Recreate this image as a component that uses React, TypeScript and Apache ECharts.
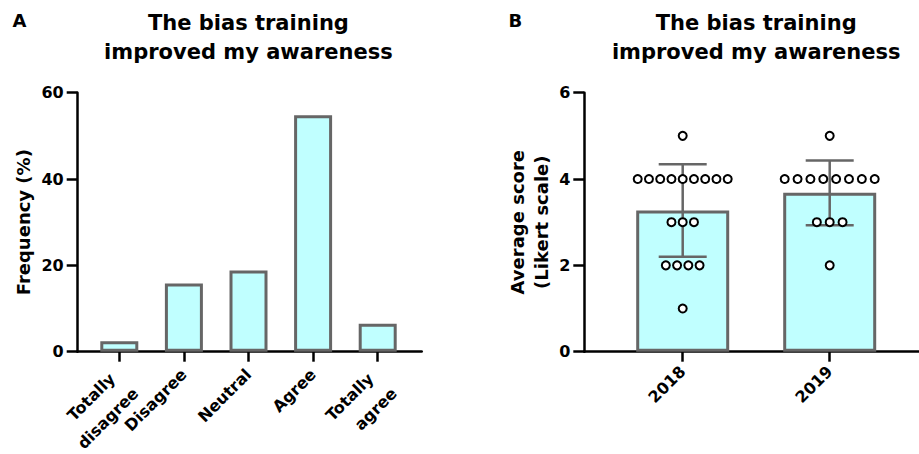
import React, { useEffect, useRef } from "react";
import * as echarts from "echarts";

// ---------- data ----------
const categoriesA = ["Totally\ndisagree", "Disagree", "Neutral", "Agree", "Totally\nagree"];
const frequencyA = [2.4, 15.8, 18.8, 54.8, 6.5];

const yearsB = ["2018", "2019"];
const meanB = [3.27, 3.68];
const sdB = [1.07, 0.75];
const scores2018 = [5, 4, 4, 4, 4, 4, 4, 4, 4, 4, 3, 3, 3, 2, 2, 2, 2, 1];
const scores2019 = [5, 4, 4, 4, 4, 4, 4, 4, 4, 3, 3, 3, 2];

const titleText = "The bias training\nimproved my awareness";
const yTicksA = { min: 0, max: 60, interval: 20 };
const yTicksB = { min: 0, max: 6, interval: 2 };

const FONT = "'DejaVu Sans', sans-serif";
const BAR_FILL = "#C0FFFF";
const BAR_EDGE = "#666666";

export default function App() {
  const ref = useRef<HTMLDivElement>(null);

  useEffect(() => {
    if (!ref.current) return;
    const chart = echarts.init(ref.current, undefined, { renderer: "svg" });

    const top = 92.7;
    const h = 259;
    const gA = { left: 87, width: 323 };
    const gALine = { left: 77.7, width: 344 };
    const gB = { left: 609.2, width: 294 };
    const gBLine = { left: 584.3, width: 334.7 };

    // beeswarm-like layout of dots (layout only, values come from score arrays)
    const spreadPx = 90;
    const pxPerUnit = gB.width / 2;
    const dots: number[][] = [];
    [scores2018, scores2019].forEach((arr, gi) => {
      const counts: Record<number, number> = {};
      arr.forEach((v) => (counts[v] = (counts[v] || 0) + 1));
      const maxCount = Math.max(...Object.values(counts));
      const step = maxCount > 1 ? spreadPx / (maxCount - 1) : 0;
      Object.keys(counts).forEach((k) => {
        const v = Number(k);
        const n = counts[v];
        for (let i = 0; i < n; i++) {
          dots.push([gi + ((i - (n - 1) / 2) * step) / pxPerUnit, v]);
        }
      });
    });

    const labelFont = { fontFamily: FONT, fontWeight: "bold" as const, fontSize: 16, color: "#000" };
    const axisStyle = { color: "#000", width: 2.5 };
    const gridBase = { containLabel: false, outerBoundsMode: "none" };

    const option: any = {
      animation: false,
      backgroundColor: "#fff",
      title: [
        { text: "A", left: 12.5, top: 11.4, padding: 0, textStyle: { fontFamily: FONT, fontWeight: "bold", fontSize: 18, color: "#000" } },
        { text: "B", left: 508.5, top: 11.4, padding: 0, textStyle: { fontFamily: FONT, fontWeight: "bold", fontSize: 18, color: "#000" } },
        { text: titleText, left: 248.4, top: 8.5, padding: 0, textAlign: "center", textStyle: { fontFamily: FONT, fontWeight: "bold", fontSize: 21, lineHeight: 29, color: "#000" } },
        { text: titleText, left: 756.2, top: 8.5, padding: 0, textAlign: "center", textStyle: { fontFamily: FONT, fontWeight: "bold", fontSize: 21, lineHeight: 29, color: "#000" } },
      ],
      grid: [
        { ...gridBase, left: gA.left, width: gA.width, top, height: h },
        { ...gridBase, left: gALine.left, width: gALine.width, top, height: h },
        { ...gridBase, left: gB.left, width: gB.width, top, height: h },
        { ...gridBase, left: gBLine.left, width: gBLine.width, top, height: h },
      ],
      xAxis: [
        {
          type: "category",
          gridIndex: 0,
          data: categoriesA.map((c) =>
            c.includes("\n") ? { value: c, textStyle: { padding: [23, 2, 0, 0] } } : c
          ),
          boundaryGap: true,
          axisLine: { show: false },
          axisTick: { show: true, alignWithLabel: true, length: 10, lineStyle: axisStyle },
          axisLabel: {
            ...labelFont,
            interval: 0,
            rotate: 45,
            margin: 20,
            verticalAlign: "middle",
            lineHeight: 24,
            formatter: (v: string) => {
              if (!v.includes("\n")) return v;
              const [l1, l2] = v.split("\n");
              return `{a|${l1}}\n{b|${l2}}`;
            },
            rich: {
              a: { ...labelFont, lineHeight: 27, padding: [0, 6, 0, 0] },
              b: { ...labelFont, lineHeight: 27 },
            },
          },
          splitLine: { show: false },
        },
        {
          type: "value",
          gridIndex: 1,
          min: 0,
          max: 1,
          axisLine: { show: true, onZero: false, lineStyle: axisStyle },
          axisTick: { show: false },
          axisLabel: { show: false },
          splitLine: { show: false },
        },
        {
          type: "category",
          gridIndex: 2,
          data: yearsB,
          boundaryGap: true,
          axisLine: { show: false },
          axisTick: { show: true, alignWithLabel: true, length: 10, lineStyle: axisStyle },
          axisLabel: { ...labelFont, interval: 0, rotate: 45, margin: 17, verticalAlign: "middle", lineHeight: 24, padding: [12, 0, 0, 0] },
          splitLine: { show: false },
        },
        {
          type: "value",
          gridIndex: 3,
          min: 0,
          max: 1,
          axisLine: { show: true, onZero: false, lineStyle: axisStyle },
          axisTick: { show: false },
          axisLabel: { show: false },
          splitLine: { show: false },
        },
        {
          type: "value",
          gridIndex: 2,
          min: -0.5,
          max: 1.5,
          show: false,
        },
      ],
      yAxis: [
        {
          type: "value",
          gridIndex: 0,
          ...yTicksA,
          offset: gA.left - gALine.left,
          name: "Frequency (%)",
          nameLocation: "middle",
          nameGap: 45,
          nameTextStyle: { fontFamily: FONT, fontWeight: "bold", fontSize: 18, color: "#000" },
          axisLine: { show: true, onZero: false, lineStyle: axisStyle },
          axisTick: { show: true, length: 11, lineStyle: axisStyle },
          axisLabel: { ...labelFont, margin: 14 },
          splitLine: { show: false },
        },
        { type: "value", gridIndex: 1, min: 0, max: 1, show: false },
        {
          type: "value",
          gridIndex: 2,
          ...yTicksB,
          offset: gB.left - gBLine.left,
          name: "Average score\n(Likert scale)",
          nameLocation: "middle",
          nameGap: 31,
          nameTextStyle: { fontFamily: FONT, fontWeight: "bold", fontSize: 18, lineHeight: 24, color: "#000" },
          axisLine: { show: true, onZero: false, lineStyle: axisStyle },
          axisTick: { show: true, length: 11, lineStyle: axisStyle },
          axisLabel: { ...labelFont, margin: 14 },
          splitLine: { show: false },
        },
        { type: "value", gridIndex: 3, min: 0, max: 1, show: false },
      ],
      series: [
        {
          type: "bar",
          xAxisIndex: 0,
          yAxisIndex: 0,
          data: frequencyA,
          barWidth: 38,
          itemStyle: { color: BAR_FILL, borderColor: BAR_EDGE, borderWidth: 3 },
          z: 2,
        },
        {
          type: "bar",
          xAxisIndex: 2,
          yAxisIndex: 2,
          data: meanB,
          barWidth: 93,
          itemStyle: { color: BAR_FILL, borderColor: BAR_EDGE, borderWidth: 3 },
          z: 2,
        },
        {
          type: "custom",
          xAxisIndex: 2,
          yAxisIndex: 2,
          data: meanB.map((m, i) => [i, m, sdB[i]]),
          z: 3,
          renderItem: (params: any, api: any) => {
            const x = api.value(0);
            const m = api.value(1);
            const s = api.value(2);
            const hi = api.coord([x, m + s]);
            const lo = api.coord([x, m - s]);
            const hw = 24;
            const st = { stroke: BAR_EDGE, lineWidth: 2.5 };
            return {
              type: "group",
              children: [
                { type: "line", shape: { x1: hi[0], y1: hi[1], x2: lo[0], y2: lo[1] }, style: st },
                { type: "line", shape: { x1: hi[0] - hw, y1: hi[1], x2: hi[0] + hw, y2: hi[1] }, style: st },
                { type: "line", shape: { x1: lo[0] - hw, y1: lo[1], x2: lo[0] + hw, y2: lo[1] }, style: st },
              ],
            };
          },
        },
        {
          type: "scatter",
          xAxisIndex: 4,
          yAxisIndex: 2,
          data: dots,
          symbol: "circle",
          symbolSize: 8,
          itemStyle: { color: "#fff", borderColor: "#000", borderWidth: 2, opacity: 1 },
          z: 4,
        },
      ],
    };

    chart.setOption(option);
    return () => chart.dispose();
  }, []);

  return (
    <div
      ref={ref}
      style={{ position: "fixed", left: 0, top: 0, width: 919, height: 454, background: "#fff" }}
    />
  );
}
